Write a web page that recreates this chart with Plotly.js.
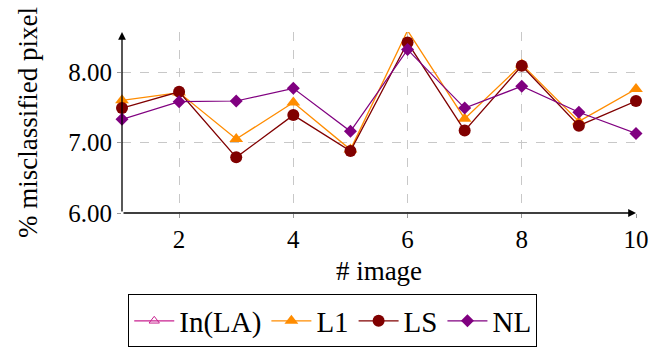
<!DOCTYPE html>
<html><head><meta charset="utf-8">
<script src="https://cdn.plot.ly/plotly-3.0.1.min.js"></script>
<style>html,body{margin:0;padding:0;background:#fff;}#chart{width:653px;height:352px;}</style>
</head><body><div id="chart"></div>
<script>
const images = [1,2,3,4,5,6,7,8,9,10];
const inLA = [null,null,null,null,null,null,null,null,null,null];
const l1 = [7.60,7.71,7.05,7.57,6.90,8.59,7.34,8.11,7.30,7.76];
const ls = [7.49,7.72,6.79,7.39,6.88,8.42,7.17,8.09,7.24,7.59];
const nl = [7.33,7.58,7.59,7.77,7.16,8.32,7.49,7.80,7.43,7.13];
const xTicks = [2,4,6,8,10];
const yTicks = [6,7,8];
const yTickText = ['6.00','7.00','8.00'];

const font = {family:'Liberation Serif, Times New Roman, Times, DejaVu Serif, serif', color:'#000'};
const traces = [
  {name:'In(LA)', x:images, y:inLA, mode:'lines+markers', line:{color:'#c8208f',width:1.2}, marker:{symbol:'triangle-up-open',size:9,color:'#c8208f'}},
  {name:'L1', x:images, y:l1, mode:'lines+markers', line:{color:'#ff8c00',width:1.3}, marker:{symbol:'triangle-up',size:12,color:'#ff8c00'}},
  {name:'LS', x:images, y:ls, mode:'lines+markers', line:{color:'#800000',width:1.3}, marker:{symbol:'circle',size:12,color:'#800000'}},
  {name:'NL', x:images, y:nl, mode:'lines+markers', line:{color:'#800080',width:1.2}, marker:{symbol:'diamond',size:10,color:'#800080'}}
];
const layout = {
  width:653, height:352,
  margin:{l:122, r:17, t:32, b:139, autoexpand:false},
  paper_bgcolor:'#fff', plot_bgcolor:'#fff',
  font:Object.assign({size:25}, font),
  showlegend:true,
  legend:{orientation:'h', x:0.41, xanchor:'center', y:-0.45, yanchor:'top', bordercolor:'#000', borderwidth:1, font:Object.assign({size:29}, font), itemwidth:40, tracegroupgap:0},
  xaxis:{range:[1,10], tickvals:xTicks, ticktext:xTicks.map(String), showgrid:true, gridcolor:'#c8c8c8', griddash:'dash', gridwidth:1,
    zeroline:false, showline:false, ticks:'outside', ticklen:4, tickcolor:'#999', tickfont:Object.assign({size:25},font),
    title:{text:'# image', font:Object.assign({size:27},font), standoff:9}},
  yaxis:{range:[6,8.57], tickvals:yTicks, ticktext:yTickText, showgrid:true, gridcolor:'#c8c8c8', griddash:'dash', gridwidth:1,
    zeroline:false, showline:false, ticks:'outside', ticklen:4, tickcolor:'#999', tickfont:Object.assign({size:25},font),
    title:{text:'% misclassified pixel', font:Object.assign({size:27},font), standoff:22}},
  annotations:[
    {xref:'paper', yref:'paper', x:1, y:0, ax:0, ay:0, axref:'paper', ayref:'paper', showarrow:true, arrowhead:2, arrowsize:1.2, arrowwidth:1.3, arrowcolor:'#000', text:''},
    {xref:'paper', yref:'paper', x:0, y:1, ax:0, ay:0, axref:'paper', ayref:'paper', showarrow:true, arrowhead:2, arrowsize:1.2, arrowwidth:1.3, arrowcolor:'#000', text:''}
  ]
};
Plotly.newPlot('chart', traces.map(t=>Object.assign({cliponaxis:false}, t)), layout, {staticPlot:true});
</script></body></html>
